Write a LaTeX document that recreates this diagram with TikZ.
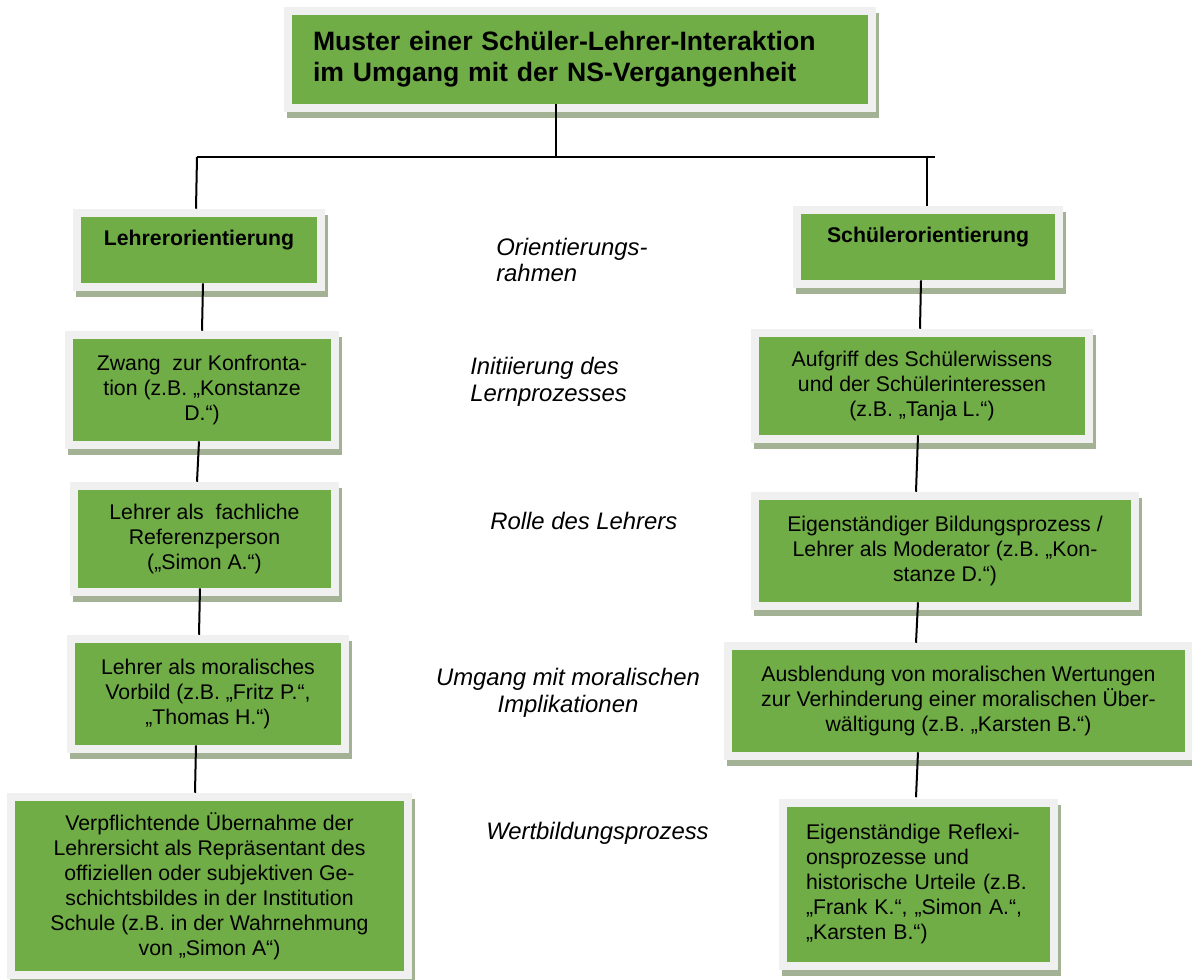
\documentclass[tikz,border=0pt]{standalone}
\usepackage{fontspec}
\setmainfont{Liberation Sans}
\usetikzlibrary{calc}

\definecolor{boxgreen}{HTML}{70AD47}
\definecolor{framegrey}{HTML}{F0F0F0}
\definecolor{shadowgreen}{HTML}{A3B294}

\tikzset{
  gbox/.style 2 args={
    rectangle, inner sep=0pt, fill=boxgreen,
    minimum width=#1*0.75pt, minimum height=#2*0.75pt,
    preaction={draw=shadowgreen, fill=shadowgreen, line width=12pt,
               transform canvas={shift={(3,6)}}},
    preaction={draw=framegrey, line width=12pt},
    font=\fontsize{15.94pt}{18.75pt}\selectfont, align=center},
  link/.style={draw=black, line width=1.5pt},
  rowlabel/.style={inner sep=0pt, anchor=west, align=left,
    font=\fontsize{17.9pt}{20pt}\selectfont\itshape}
}

\begin{document}
\begin{tikzpicture}[x=0.75pt, y=-0.75pt]
\useasboundingbox (0,0) rectangle (1192,979);

% title
\node[gbox={576}{89}, align=left, text width=534*0.75pt,
      font=\fontsize{19.95pt}{23.6pt}\selectfont\bfseries]
  (title) at (580,59) {Muster einer Schüler-Lehrer-Interaktion\\im Umgang mit der NS-Vergangenheit};

% column heads
\node[gbox={236}{66}, font=\fontsize{15.94pt}{18.75pt}\selectfont\bfseries]
  (lo) at (199,250) {Lehrerorientierung\\\mbox{}};
\node[gbox={254}{66}, font=\fontsize{15.94pt}{18.75pt}\selectfont\bfseries]
  (so) at (928,247) {Schülerorientierung\\\mbox{}};

% left column
\node[gbox={258}{102}] (zw) at (202,390)
  {Zwang\ \ zur Konfronta-\\tion (z.B. „Konstanze\\D.“)};
\node[gbox={253}{98}] (fa) at (204.5,539)
  {Lehrer als\ \ fachliche\\Referenzperson\\(„Simon A.“)};
\node[gbox={266}{102}] (mo) at (208,694)
  {Lehrer als moralisches\\Vorbild (z.B. „Fritz P.“,\\„Thomas H.“)};
\node[gbox={389}{170}] (ve) at (209.5,886)
  {Verpflichtende Übernahme der\\Lehrersicht als Repräsentant des\\offiziellen oder subjektiven Ge-\\schichtsbildes in der Institution\\Schule (z.B. in der Wahrnehmung\\von „Simon A“)};

% right column
\node[gbox={326}{98}] (au) at (922,386)
  {Aufgriff des Schülerwissens\\und der Schülerinteressen\\(z.B. „Tanja L.“)};
\node[gbox={372}{102}] (ei) at (945,551)
  {Eigenständiger Bildungsprozess /\\Lehrer als Moderator (z.B. „Kon-\\stanze D.“)};
\node[gbox={453}{102}] (ab) at (958.5,701)
  {Ausblendung von moralischen Wertungen\\zur Verhinderung einer moralischen Über-\\wältigung (z.B. „Karsten B.“)};
\node[gbox={263}{155}, align=left, text width=225*0.75pt] (re) at (918.5,884)
  {Eigenständige Reflexi-\\onsprozesse und\\historische Urteile (z.B.\\„Frank K.“, „Simon A.“,\\„Karsten B.“)};

% row labels in the middle
\node[rowlabel] (l1) at (496,260) {Orientierungs-\\rahmen};
\node[rowlabel] (l2) at (470,381.5) {Initiierung des\\Lernprozesses};
\node[rowlabel] (l3) at (490,521) {Rolle des Lehrers};
\node[rowlabel, anchor=center, align=center] (l4) at (568,693) {Umgang mit moralischen\\Implikationen};
\node[rowlabel] (l5) at (486,833) {Wertbildungsprozess};

% branching from the title
\coordinate (hub) at (556,157);
\coordinate (hl) at (197,157);
\coordinate (hr) at (935,157);
\draw[link] ($(title.south)+(-24,0)$) -- (hub);
\draw[link] (hl) -- (hr);
\draw[link] (hl) -- ($(lo.north)+(-3,-8)$);
\path ($(so.north)+(-1,-8)$) coordinate (sotop);
\draw[link] (sotop |- hub) -- (sotop);

% left chain
\draw[link] ($(lo.south)+(4,0)$) -- ($(zw.north)+(0,-8)$);
\draw[link] ($(zw.south)+(-3,0)$) -- ($(fa.north)+(-7.5,-8)$);
\draw[link] ($(fa.south)+(-4.5,0)$) -- ($(mo.north)+(-9,-8)$);
\draw[link] ($(mo.south)+(-12,0)$) -- ($(ve.north)+(-14.5,-8)$);

% right chain
\draw[link] ($(so.south)+(-7,0)$) -- ($(au.north)+(-2,-8)$);
\draw[link] ($(au.south)+(-4,0)$) -- ($(ei.north)+(-29,-8)$);
\draw[link] ($(ei.south)+(-27,0)$) -- ($(ab.north)+(-42.5,-7)$);
\draw[link] ($(ab.south)+(-40.5,0)$) -- ($(re.north)+(-2.5,-9)$);
\end{tikzpicture}
\end{document}
